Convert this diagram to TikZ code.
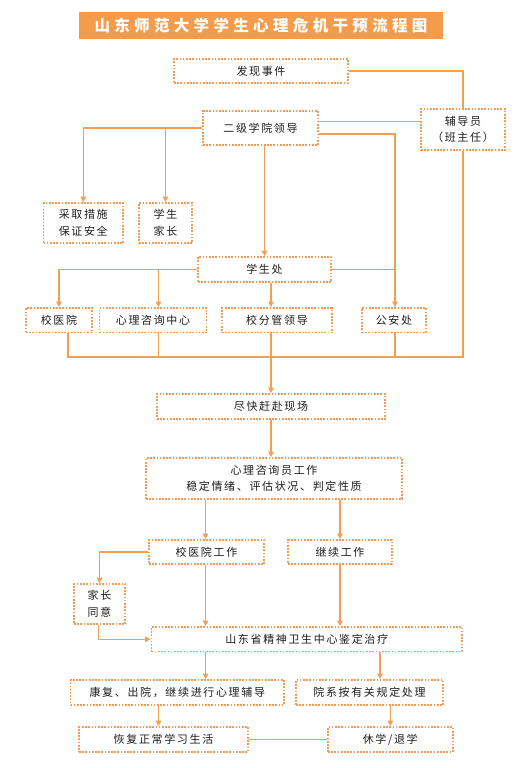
\documentclass[tikz,border=0pt]{standalone}
\usepackage{fontspec}
\setmainfont{Noto Sans CJK SC}
\newfontfamily\boxfont[LetterSpace=15]{Noto Sans CJK SC}
\newfontfamily\titlefont[LetterSpace=28]{Noto Sans CJK SC}
\usetikzlibrary{arrows.meta}
\definecolor{ttl}{HTML}{F49C4C}
\definecolor{ln}{HTML}{F29E54}
\definecolor{bd}{HTML}{EF9C58}
\definecolor{tx}{HTML}{1E1E1E}
\tikzset{
  box/.style={draw=bd, line width=1.8pt, dash pattern=on 1.7pt off 1.5pt,
    inner sep=0pt, align=center, text=tx,
    font=\boxfont\fontsize{11}{16.5}\selectfont},
  conn/.style={draw=ln, line width=1.3pt},
  arr/.style={conn, -{Triangle[length=5.5pt,width=5.5pt]}},
}
\begin{document}
\begin{tikzpicture}[x=1pt,y=-1pt]
\useasboundingbox (0,0) rectangle (531,768);
\fill[white] (0,0) rectangle (531,768);
% title
\node[fill=ttl, minimum width=364pt, minimum height=27pt, inner sep=0pt, text=white,
  font=\titlefont\bfseries\fontsize{15.5}{18}\selectfont] (title) at (261,25.5) {山东师范大学学生心理危机干预流程图};
% boxes
\node[box, minimum width=174pt, minimum height=24pt] (fx) at (261,71) {发现事件};
\node[box, minimum width=84pt, minimum height=41pt] (fdy) at (463,129.5) {辅导员\\（班主任）};
\node[box, minimum width=115pt, minimum height=34pt] (ej) at (260.5,128) {二级学院领导};
\node[box, minimum width=79.5pt, minimum height=40pt] (cq) at (83.25,223) {采取措施\\保证安全};
\node[box, minimum width=53pt, minimum height=40pt] (xs) at (165.5,223) {学生\\家长};
\node[box, minimum width=133pt, minimum height=25pt] (xsc) at (264.5,269.5) {学生处};
\node[box, minimum width=66pt, minimum height=24.5pt] (xy) at (59,320.25) {校医院};
\node[box, minimum width=107pt, minimum height=24.5pt] (xl) at (153,320.25) {心理咨询中心};
\node[box, minimum width=110pt, minimum height=24.5pt] (fg) at (277,320.25) {校分管领导};
\node[box, minimum width=64pt, minimum height=24.5pt] (gaj) at (394,320.25) {公安处};
\coordinate (bus) at (0,357);
\node[box, minimum width=228pt, minimum height=25pt] (jk) at (271,406.5) {尽快赶赴现场};
\node[box, minimum width=256pt, minimum height=41pt] (xlz) at (274,478.5) {心理咨询员工作\\稳定情绪、评估状况、判定性质};
\node[box, minimum width=115pt, minimum height=24pt] (yw) at (206.5,552) {校医院工作};
\node[box, minimum width=104pt, minimum height=24pt] (jx) at (340,552) {继续工作};
\node[box, minimum width=51pt, minimum height=40pt] (jz) at (99.5,604) {家长\\同意};
\node[box, minimum width=310.5pt, minimum height=24.5pt] (sd) at (306.75,639.25) {山东省精神卫生中心鉴定治疗};
\node[box, minimum width=213.5pt, minimum height=25pt] (kf) at (177.3,692.5) {康复、出院，继续进行心理辅导};
\node[box, minimum width=147pt, minimum height=25pt] (yx) at (369.5,692.5) {院系按有关规定处理};
\node[box, minimum width=169pt, minimum height=25pt] (hf) at (163.5,739.5) {恢复正常学习生活};
\node[box, minimum width=124.6pt, minimum height=25pt] (xx) at (390.3,739.5) {休学/退学};
% connectors
\draw[conn] (fx.east) -| (fdy.north);
\draw[conn] ([yshift=6.5pt]ej.east) -- ([yshift=6.5pt]ej.east -| fdy.west);
\draw[arr] ([yshift=-6pt]ej.east) -| ([xshift=1pt]gaj.north);
\draw[arr] (ej.west) -| (cq.north);
\draw[arr] (ej.west -| xs.north) -- (xs.north);
\draw[arr] (xsc.north |- ej.south) -- (xsc.north);
\draw[arr] (xsc.west) -| (xy.north);
\draw[arr] ([xshift=5.5pt]xl.north |- xsc.west) -- ([xshift=5.5pt]xl.north);
\draw[conn] (xsc.east) -- ([xshift=1pt]xsc.east -| gaj.north);
\draw[arr] ([xshift=-6pt]fg.north |- xsc.south) -- ([xshift=-6pt]fg.north);
\draw[conn] ([xshift=9pt]xy.south) |- (fdy.south |- bus) -- (fdy.south);
\draw[conn] ([xshift=5.5pt]xl.south) -- ([xshift=5.5pt]xl.south |- bus);
\draw[conn] ([xshift=1pt]gaj.south) -- ([xshift=1pt]gaj.south |- bus);
\draw[arr] (jk.north |- fg.south) -- (jk.north);
\draw[arr] (jk.south) -- (jk.south |- xlz.north);
\draw[arr] ([xshift=-1pt]yw.north |- xlz.south) -- ([xshift=-1pt]yw.north);
\draw[arr] (jx.north |- xlz.south) -- (jx.north);
\draw[arr] (yw.west) -| (jz.north);
\draw[arr] ([xshift=-1pt]jz.south) |- (sd.west);
\draw[arr] ([xshift=-1pt]yw.south) -- ([xshift=-1pt]yw.south |- sd.north);
\draw[arr] (jx.south) -- (jx.south |- sd.north);
\draw[arr] ([xshift=-1pt]yw.south |- sd.south) -- ([xshift=-1pt]yw.south |- kf.north);
\draw[arr] ([xshift=10.5pt]yx.north |- sd.south) -- ([xshift=10.5pt]yx.north);
\draw[arr] ([xshift=-5pt]hf.north |- kf.south) -- ([xshift=-5pt]hf.north);
\draw[arr] (xx.north |- yx.south) -- (xx.north);
\draw[conn] (hf.east) -- (xx.west);
\end{tikzpicture}
\end{document}
